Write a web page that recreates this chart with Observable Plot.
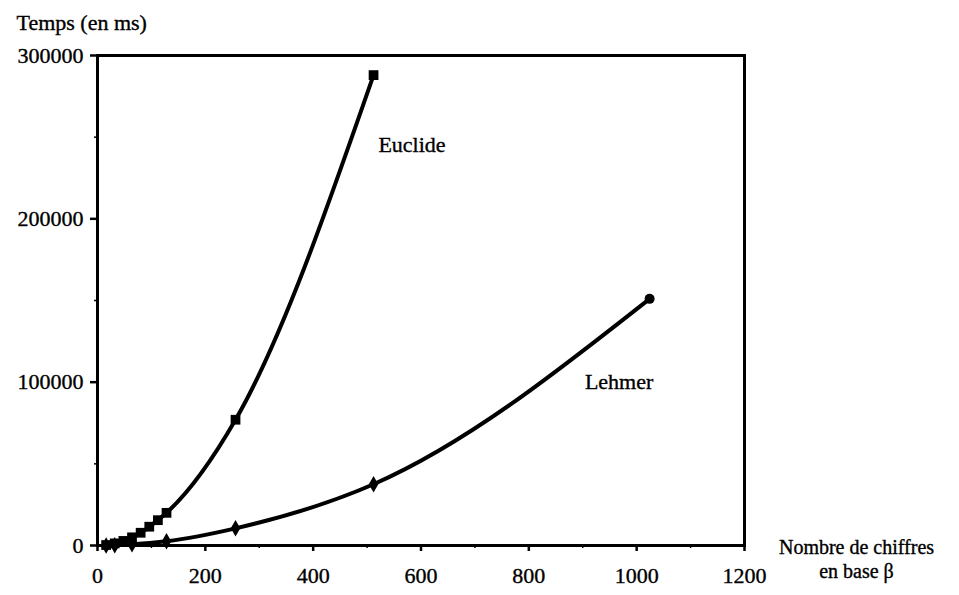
<!DOCTYPE html>
<html>
<head>
<meta charset="utf-8">
<script src="https://cdn.jsdelivr.net/npm/d3@7"></script>
<script src="https://cdn.jsdelivr.net/npm/@observablehq/plot@0.6"></script>
<style>
  html, body { margin: 0; padding: 0; background: #fff; }
  svg { display: block; }
  svg text { stroke: #000; stroke-width: 0.35px; }
</style>
</head>
<body>
<div id="chart"></div>
<script>
// Nombre de chiffres en base β
const euclideX = [16, 32, 48, 64, 80, 96, 112, 128, 256, 512];
const euclideY = [300, 1300, 2800, 5000, 7800, 11500, 15500, 20000, 77000, 288000];
const lehmerX  = [16, 32, 64, 128, 256, 512, 1024];
const lehmerY  = [50, 200, 700, 2600, 10500, 37500, 151000];

const xTicks = [0, 200, 400, 600, 800, 1000, 1200];
const xMinor = [100, 300, 500, 700, 900, 1100];
const yTicks = [0, 100000, 200000, 300000];
const yMinor = [50000, 150000, 250000];

const seriesLabels = [
  {name: "Euclide", x: 521, y: 245000},
  {name: "Lehmer", x: 904, y: 100000}
];

const euclide = euclideX.map((x, i) => ({x, y: euclideY[i]}));
const lehmer  = lehmerX.map((x, i) => ({x, y: lehmerY[i]}));

const font = "'Liberation Serif', 'DejaVu Serif', serif";

const chart = Plot.plot({
  width: 959,
  height: 595,
  marginLeft: 97,
  marginRight: 215,
  marginTop: 55,
  marginBottom: 50,
  style: {fontFamily: font, fontSize: "22px", color: "#000", background: "#fff"},
  x: {domain: [0, 1200]},
  y: {domain: [0, 300000]},
  marks: [
    Plot.axisX({ticks: xTicks, tickSize: 6, tickPadding: 16, tickFormat: d3.format("d"), label: null, fontSize: 22, strokeWidth: 2.5}),
    Plot.axisX({ticks: xMinor, tickSize: 3, tickFormat: () => "", label: null, strokeWidth: 1.5}),
    Plot.axisY({ticks: yTicks, tickSize: 7, tickPadding: 7, tickFormat: d3.format("d"), label: null, fontSize: 22, strokeWidth: 2.5}),
    Plot.axisY({ticks: yMinor, tickSize: 3, tickFormat: () => "", label: null, strokeWidth: 1.5}),
    Plot.frame({stroke: "#000", strokeWidth: 3}),
    Plot.line(euclide, {x: "x", y: "y", curve: "monotone-x", stroke: "#000", strokeWidth: 4}),
    Plot.line(lehmer, {x: "x", y: "y", curve: "monotone-x", stroke: "#000", strokeWidth: 4}),
    Plot.dot(euclide, {x: "x", y: "y", symbol: "square", r: 5.5, fill: "#000"}),
    Plot.dot(lehmer.slice(0, -1), {x: "x", y: "y", symbol: "diamond", r: 5, fill: "#000"}),
    Plot.dot(lehmer.slice(-1), {x: "x", y: "y", symbol: "circle", r: 5, fill: "#000"}),
    Plot.text(seriesLabels, {x: "x", y: "y", text: "name", textAnchor: "start", fontSize: 22, fill: "#000"}),
    Plot.text(["Temps (en ms)"], {frameAnchor: "top-left", textAnchor: "start", dx: -81, dy: -41, fontSize: 22, fill: "#000"}),
    Plot.text(["Nombre de chiffres\nen base β"], {frameAnchor: "bottom-right", textAnchor: "middle", lineAnchor: "middle", lineHeight: 1.17, dx: 112, dy: 13, fontSize: 20, fill: "#000"})
  ]
});

document.getElementById("chart").appendChild(chart);
</script>
</body>
</html>
